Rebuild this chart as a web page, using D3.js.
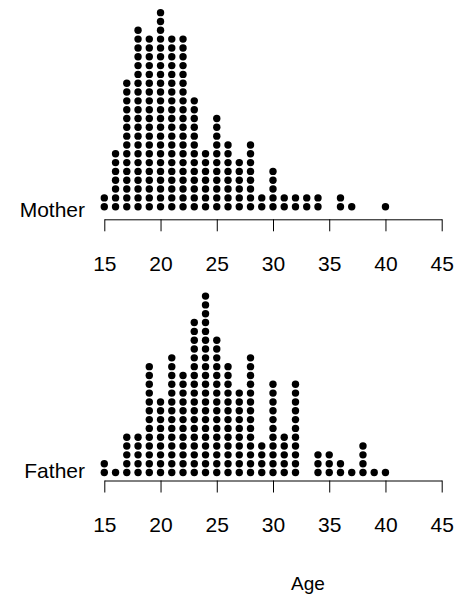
<!DOCTYPE html>
<html>
<head>
<meta charset="utf-8">
<script src="https://cdn.jsdelivr.net/npm/d3@7"></script>
<style>
  body { margin: 0; background: #fff; }
  text { font-family: "Liberation Sans", Arial, sans-serif; }
</style>
</head>
<body>
<div class="canvas"></div>
<script>
// ages (years) and how many parents of each age
const ages = d3.range(15, 41);
const motherCounts = [2, 7, 15, 21, 20, 23, 20, 20, 13, 7, 11, 8, 6, 8, 2, 5, 2, 2, 2, 2, 0, 2, 1, 0, 0, 1];
const fatherCounts = [2, 1, 5, 5, 13, 9, 14, 12, 18, 21, 16, 13, 10, 14, 4, 11, 5, 11, 0, 3, 3, 2, 1, 4, 1, 1];
const tickLabels = [15, 20, 25, 30, 35, 40, 45];

const dims = { width: 455, height: 595 };
const fontSize = 21;

const svg = d3
  .select(".canvas")
  .append("svg")
  .attr("width", dims.width)
  .attr("height", dims.height);

const x = d3.scaleLinear().domain([15, 45]).range([104.3, 441.7]);

// panels: label, counts, baseline of the dot stack, label centre, axis position
const panels = [
  { name: "Mother", counts: motherCounts, base: 206.7, labelY: 209, axisY: 219.3 },
  { name: "Father", counts: fatherCounts, base: 472.5, labelY: 470, axisY: 480.5 }
];

panels.forEach((p) => {
  // stack level -> pixel
  const y = d3.scaleLinear().domain([0, 25]).range([p.base, p.base - 25 * 8.82]);

  const dots = [];
  ages.forEach((a, i) => {
    for (let k = 0; k < p.counts[i]; k++) dots.push({ age: a, k: k });
  });

  svg
    .append("g")
    .selectAll("circle")
    .data(dots)
    .enter()
    .append("circle")
    .attr("cx", (d) => x(d.age))
    .attr("cy", (d) => y(d.k))
    .attr("r", 3.7)
    .attr("fill", "#000");

  // label on the left
  svg
    .append("text")
    .attr("x", 85)
    .attr("y", p.labelY)
    .attr("dy", "0.36em")
    .attr("text-anchor", "end")
    .attr("font-size", fontSize)
    .text(p.name);

  // axis
  const axis = d3
    .axisBottom(x)
    .tickValues(tickLabels)
    .tickSizeInner(12)
    .tickSizeOuter(0)
    .tickPadding(25);

  const g = svg
    .append("g")
    .attr("transform", `translate(0, ${p.axisY})`)
    .call(axis);

  g.select(".domain").attr("stroke", "#000");
  g.selectAll(".tick line").attr("stroke", "#000");
  g.selectAll(".tick text")
    .attr("font-size", fontSize)
    .attr("font-family", "Liberation Sans, Arial, sans-serif")
    .attr("fill", "#000");
});

svg
  .append("text")
  .attr("x", 308)
  .attr("y", 590)
  .attr("text-anchor", "middle")
  .attr("font-size", 19)
  .text("Age");
</script>
</body>
</html>
